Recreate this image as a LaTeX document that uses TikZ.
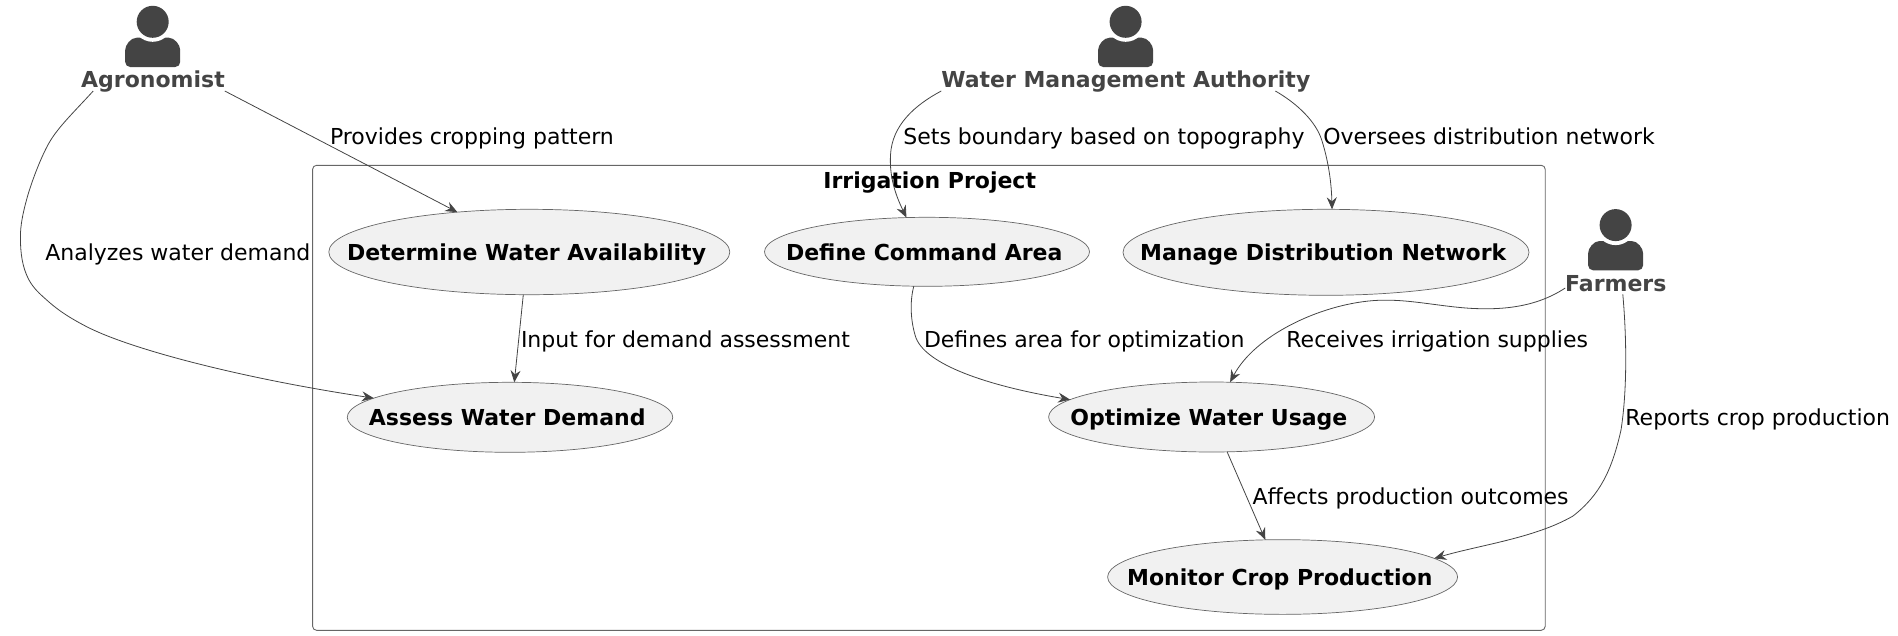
\documentclass[tikz,border=0pt]{standalone}
\usepackage{fontspec}
\setmainfont{DejaVu Sans}
\usetikzlibrary{arrows.meta,shapes.geometric}
\definecolor{actorgray}{HTML}{444444}
\definecolor{casefill}{HTML}{F1F1F1}
\definecolor{framegray}{HTML}{666666}
\tikzset{
  usecase/.style={ellipse,draw=framegray,line width=0.7pt,fill=casefill,inner xsep=-60pt,inner ysep=0pt,outer sep=0pt,
    font=\fontsize{22}{24}\bfseries,text height=19.4pt,text depth=2.4pt,execute at end node=\hskip5.5pt},
  actorname/.style={text=actorgray,inner sep=0pt,outer sep=0pt,
    font=\fontsize{22}{24}\bfseries,text height=20.1pt,text depth=3.3pt},
  flowlabel/.style={anchor=west,inner sep=0pt,outer sep=0pt,
    font=\fontsize{22}{24}\selectfont,text height=18.4pt,text depth=3.4pt},
  flow/.style={-{Stealth[length=12pt,width=10pt,inset=4pt]},actorgray,line width=0.8pt},
  actorman/.pic={
    \fill[actorgray,rounded corners=5pt] (-27.5,67) -- (-27.5,55) .. controls (-27.5,45) and (-22,37.7) .. (-11,37.7)
      -- (11,37.7) .. controls (22,37.7) and (27.5,45) .. (27.5,55) -- (27.5,67) -- cycle;
    \fill[white] (0,21.8) circle (20);
    \fill[actorgray] (0,21.8) circle (16);
  }
}
\begin{document}
\begin{tikzpicture}[x=1pt,y=-1pt]
    \useasboundingbox (0,0) rectangle (1898,635);

    % system frame
    \draw [framegray,line width=0.9pt,rounded corners=4pt] (312.6,165.3) rectangle (1545.2,630.3);
    \node [inner sep=0pt,font=\fontsize{22}{24}\bfseries] (project) at (929.7,182.7) {Irrigation Project};

    % actors
    \pic at (152.7,0) {actorman};
    \node [actorname] (agronomist) at (153,79.3) {Agronomist};
    \pic at (1125.6,0) {actorman};
    \node [actorname] (authority) at (1125.8,79.3) {Water Management Authority};
    \pic at (1615.6,203.3) {actorman};
    \node [actorname] (farmers) at (1615.8,282.7) {Farmers};

    % use cases
    \node [usecase,minimum width=401pt,minimum height=85.4pt] (availability) at (529.3,252) {Determine Water Availability};
    \node [usecase,minimum width=325pt,minimum height=69pt] (command) at (927,251.8) {Define Command Area};
    \node [usecase,minimum width=406pt,minimum height=86pt] (network) at (1326,252.3) {Manage Distribution Network};
    \node [usecase,minimum width=325.5pt,minimum height=70pt] (demand) at (510,417.3) {Assess Water Demand};
    \node [usecase,minimum width=326pt,minimum height=70pt] (usage) at (1211.6,417) {Optimize Water Usage};
    \node [usecase,minimum width=350pt,minimum height=74.7pt] (production) at (1282.6,577) {Monitor Crop Production};

    % connectors
    \draw [flow] (agronomist.south east) -- (availability.151.7);
    \draw [flow] ([xshift=12pt]agronomist.south west) .. controls (76,110) and (58,127) .. (49,143)
      .. controls (41,157) and (31,183) .. (26.5,200) .. controls (23,213) and (20.4,225) .. (20.4,237)
      .. controls (20.4,252) and (22,267) .. (29,280) .. controls (34,289) and (40,294) .. (46.7,300)
      .. controls (60,312) and (72,319) .. (86.7,326.7) .. controls (130,349) and (240,378) .. (demand.172.5);
    \draw [flow] (availability.262.5) -- (demand.83.8);
    \draw [flow] (authority.south west) .. controls (915,105) and (892,125) .. (890.5,155)
      .. controls (889,180) and (898,200) .. (command.121.3);
    \draw [flow] ([xshift=-35pt]authority.south east) .. controls (1298,104) and (1316,122) .. (1321.7,140)
      .. controls (1329,163) and (1331.5,185) .. (network.82.8);
    \draw [flow] (command.249) .. controls (910,300) and (910,320) .. (916,338)
      .. controls (928,368) and (1000,388) .. (usage.173.7);
    \draw [flow] (farmers.186) .. controls (1535,308) and (1500,310) .. (1470,308.3)
      .. controls (1435,306) and (1405,298) .. (1372,300.7)
      .. controls (1320,305) and (1255,335) .. (usage.62);
    \draw [flow] ([xshift=7pt]farmers.south) .. controls (1626,330) and (1628,385) .. (1621,430)
      .. controls (1612,470) and (1600,495) .. (1573,516) .. controls (1535,538) and (1480,545) .. (production.7.4);
    \draw [flow] (usage.294.3) -- (production.115);

    % connector labels
    \node [flowlabel] (providesl) at (330,136.7) {Provides cropping pattern};
    \node [flowlabel] (analyzesl) at (45.3,253.3) {Analyzes water demand};
    \node [flowlabel] (setsl) at (903.4,136.7) {Sets boundary based on topography};
    \node [flowlabel] (overseesl) at (1323.3,136.7) {Oversees distribution network};
    \node [flowlabel] (inputl) at (521,340.3) {Input for demand assessment};
    \node [flowlabel] (definesl) at (924,340.3) {Defines area for optimization};
    \node [flowlabel] (receivesl) at (1286.4,340.3) {Receives irrigation supplies};
    \node [flowlabel] (reportsl) at (1625.4,417.7) {Reports crop production};
    \node [flowlabel] (affectsl) at (1252.6,497) {Affects production outcomes};
\end{tikzpicture}
\end{document}
